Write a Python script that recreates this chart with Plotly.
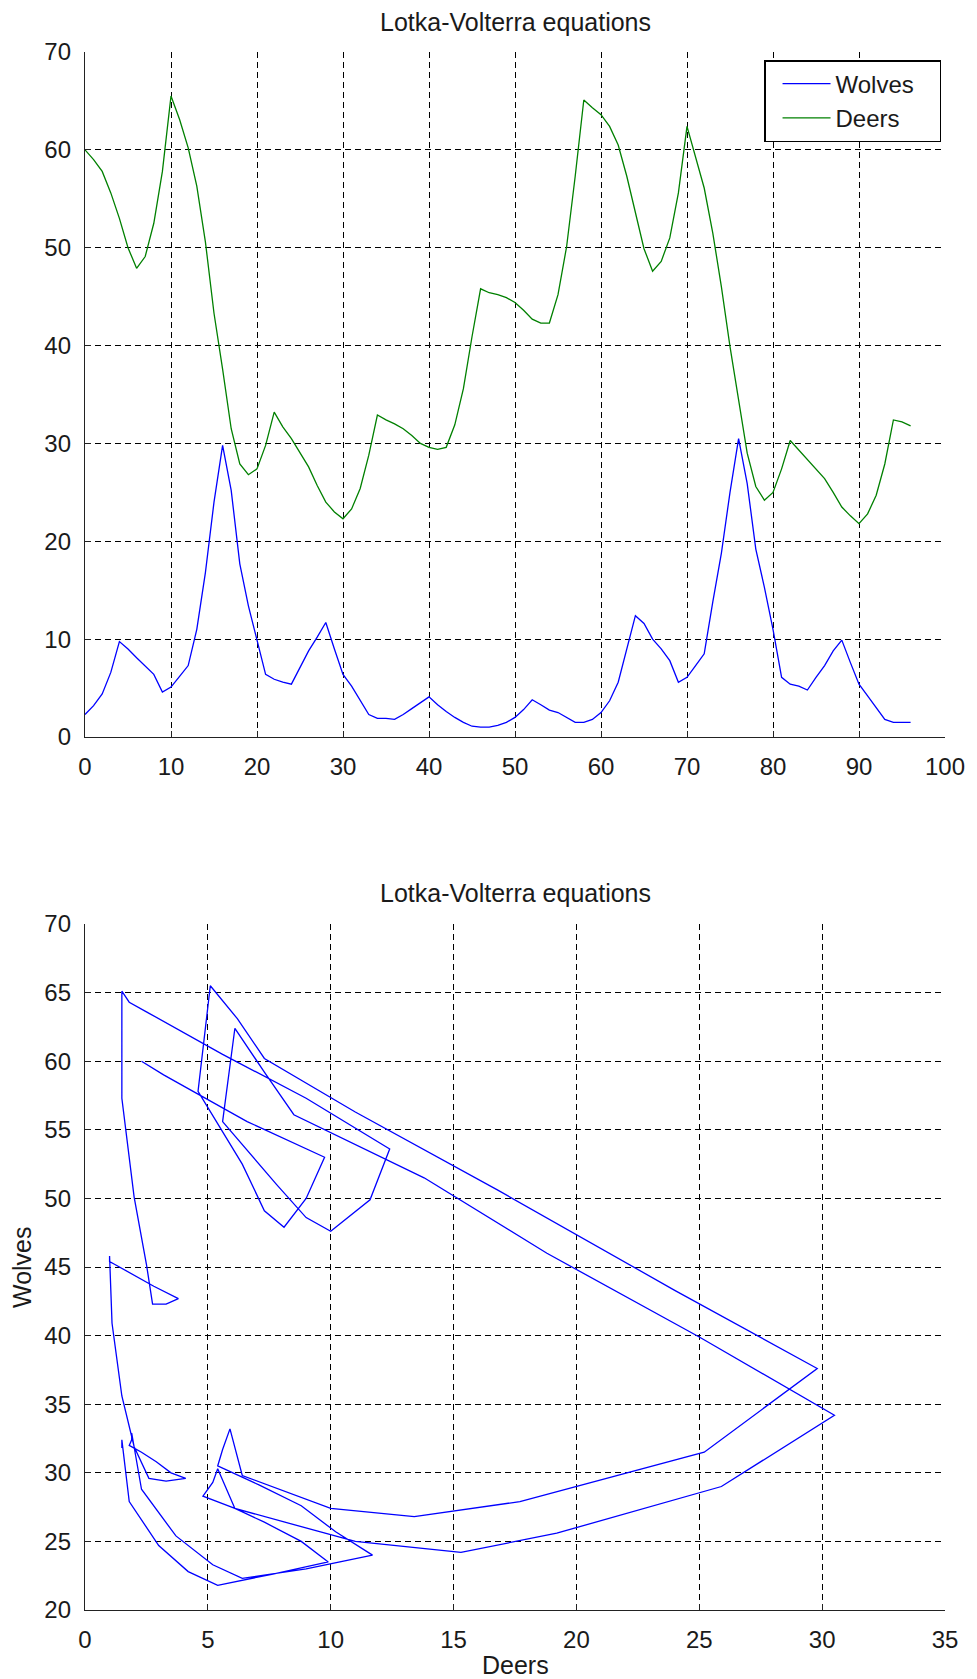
import plotly.graph_objects as go

time = [0, 1, 2, 3, 4, 5, 6, 7, 8, 9, 10, 11, 12, 13, 14, 15, 16, 17, 18, 19,
        20, 21, 22, 23, 24, 25, 26, 27, 28, 29, 30, 31, 32, 33, 34, 35, 36, 37, 38, 39,
        40, 41, 42, 43, 44, 45, 46, 47, 48, 49, 50, 51, 52, 53, 54, 55, 56, 57, 58, 59,
        60, 61, 62, 63, 64, 65, 66, 67, 68, 69, 70, 71, 72, 73, 74, 75, 76, 77, 78, 79,
        80, 81, 82, 83, 84, 85, 86, 87, 88, 89, 90, 91, 92, 93, 94, 95, 96]

wolves = [2.3, 3.2, 4.4, 6.6, 9.75, 9.0, 8.1, 7.3, 6.4, 4.6,
          5.1, 6.2, 7.3, 11.0, 16.8, 24.0, 29.8, 25.2, 17.7, 13.4,
          10.0, 6.4, 5.9, 5.6, 5.4, 7.1, 8.8, 10.2, 11.7, 9.0,
          6.4, 5.2, 3.7, 2.3, 1.9, 1.9, 1.8, 2.3, 2.9, 3.5,
          4.1, 3.3, 2.6, 2.0, 1.5, 1.1, 1.0, 1.0, 1.2, 1.5,
          2.0, 2.8, 3.8, 3.3, 2.75, 2.5, 2.0, 1.5, 1.5, 1.8,
          2.5, 3.7, 5.6, 9.0, 12.4, 11.6, 10.0, 9.0, 7.8, 5.6,
          6.1, 7.3, 8.5, 13.8, 18.8, 25.0, 30.5, 25.9, 19.2, 15.3,
          11.0, 6.1, 5.4, 5.2, 4.8, 6.1, 7.3, 8.8, 9.9, 7.6,
          5.4, 4.2, 3.0, 1.8, 1.5, 1.5, 1.5]

deers = [60.0, 59.0, 57.8, 55.6, 53.0, 50.0, 47.9, 49.1, 52.5, 57.8,
         65.5, 63.1, 60.2, 56.3, 50.6, 43.3, 37.6, 31.5, 27.9, 26.8,
         27.4, 29.8, 33.2, 31.7, 30.5, 29.1, 27.6, 25.7, 24.0, 23.0,
         22.3, 23.3, 25.4, 28.8, 32.9, 32.4, 32.0, 31.5, 30.8, 30.0,
         29.6, 29.4, 29.6, 31.9, 35.6, 40.9, 45.8, 45.4, 45.2, 44.9,
         44.4, 43.6, 42.7, 42.3, 42.3, 45.2, 50.1, 57.3, 65.1, 64.3,
         63.6, 62.4, 60.5, 57.3, 53.6, 49.9, 47.6, 48.6, 51.0, 55.6,
         62.4, 59.2, 56.1, 51.5, 46.0, 39.9, 34.2, 29.0, 25.6, 24.2,
         25.0, 27.4, 30.3, 29.3, 28.3, 27.4, 26.4, 25.0, 23.5, 22.6,
         21.8, 22.8, 24.7, 27.9, 32.4, 32.2, 31.8]

title_text = "Lotka-Volterra equations"
series_names = ["Wolves", "Deers"]
x_label_bottom = "Deers"
y_label_bottom = "Wolves"

top_xticks = [0, 10, 20, 30, 40, 50, 60, 70, 80, 90, 100]
top_yticks = [0, 10, 20, 30, 40, 50, 60, 70]
bot_xticks = [0, 5, 10, 15, 20, 25, 30, 35]
bot_yticks = [20, 25, 30, 35, 40, 45, 50, 55, 60, 65, 70]

BLUE = "#0000FF"
GREEN = "#008000"
FONT = "Liberation Sans, Arial, sans-serif"
TXT = "#1a1a1a"
PAD = "\u00a0\u00a0\u00a0"

fig = go.Figure()
fig.add_trace(go.Scatter(x=time, y=wolves, mode="lines", name=series_names[0] + PAD,
                         line=dict(color=BLUE, width=1.3), xaxis="x", yaxis="y"))
fig.add_trace(go.Scatter(x=time, y=deers, mode="lines", name=series_names[1] + PAD,
                         line=dict(color=GREEN, width=1.3), xaxis="x", yaxis="y"))
fig.add_trace(go.Scatter(x=wolves, y=deers, mode="lines", showlegend=False,
                         line=dict(color=BLUE, width=1.3), xaxis="x2", yaxis="y2"))

W, H = 977, 1679
ml, mr, mt, mb = 85, 23, 52, 69
ph = H - mt - mb
pw = W - ml - mr
top_dom = [1 - 685 / ph, 1]
bot_dom = [0, 1 - 872 / ph]

axis_common = dict(
    showline=True, linecolor="#222222", linewidth=1.3, mirror=False,
    ticks="inside", ticklen=6, tickcolor="#222222", tickwidth=1.2,
    showgrid=True, gridcolor="#000000", gridwidth=1, griddash="6px,4px",
    zeroline=False, tickfont=dict(family=FONT, size=24, color=TXT),
    ticklabelstandoff=8,
)

fig.update_layout(
    width=W, height=H,
    margin=dict(l=ml, r=mr, t=mt, b=mb, pad=0),
    paper_bgcolor="white", plot_bgcolor="white",
    font=dict(family=FONT, size=24, color=TXT),
    xaxis=dict(domain=[0, 1], anchor="y", range=[0, 100], tickvals=top_xticks, **axis_common),
    yaxis=dict(domain=top_dom, anchor="x", range=[0, 70], tickvals=top_yticks, **axis_common),
    xaxis2=dict(domain=[0, 1], anchor="y2", range=[0, 35], tickvals=bot_xticks, **axis_common),
    yaxis2=dict(domain=bot_dom, anchor="x2", range=[20, 70], tickvals=bot_yticks, **axis_common),
    legend=dict(x=(950 - ml) / pw, y=1 - (60 - mt) / ph, xanchor="right", yanchor="top",
                bgcolor="white", bordercolor="#000000", borderwidth=1.5,
                itemwidth=48, indentation=12,
                font=dict(family=FONT, size=24, color=TXT), tracegroupgap=0),
    showlegend=True,
)

fig.add_annotation(text=title_text, xref="x domain", yref="y domain", x=0.5, y=1,
                   yshift=30, yanchor="middle", xanchor="center", showarrow=False,
                   font=dict(family=FONT, size=25, color=TXT))
fig.add_annotation(text=title_text, xref="x2 domain", yref="y2 domain", x=0.5, y=1,
                   yshift=31, yanchor="middle", xanchor="center", showarrow=False,
                   font=dict(family=FONT, size=25, color=TXT))
fig.add_annotation(text=x_label_bottom, xref="x2 domain", yref="y2 domain", x=0.5, y=0,
                   yshift=-55, yanchor="middle", xanchor="center", showarrow=False,
                   font=dict(family=FONT, size=25, color=TXT))
fig.add_annotation(text=y_label_bottom, xref="x2 domain", yref="y2 domain", x=0, y=0.5,
                   xshift=-63, yanchor="middle", xanchor="center", showarrow=False,
                   textangle=-90, font=dict(family=FONT, size=25, color=TXT))

fig.write_html("out.html")
